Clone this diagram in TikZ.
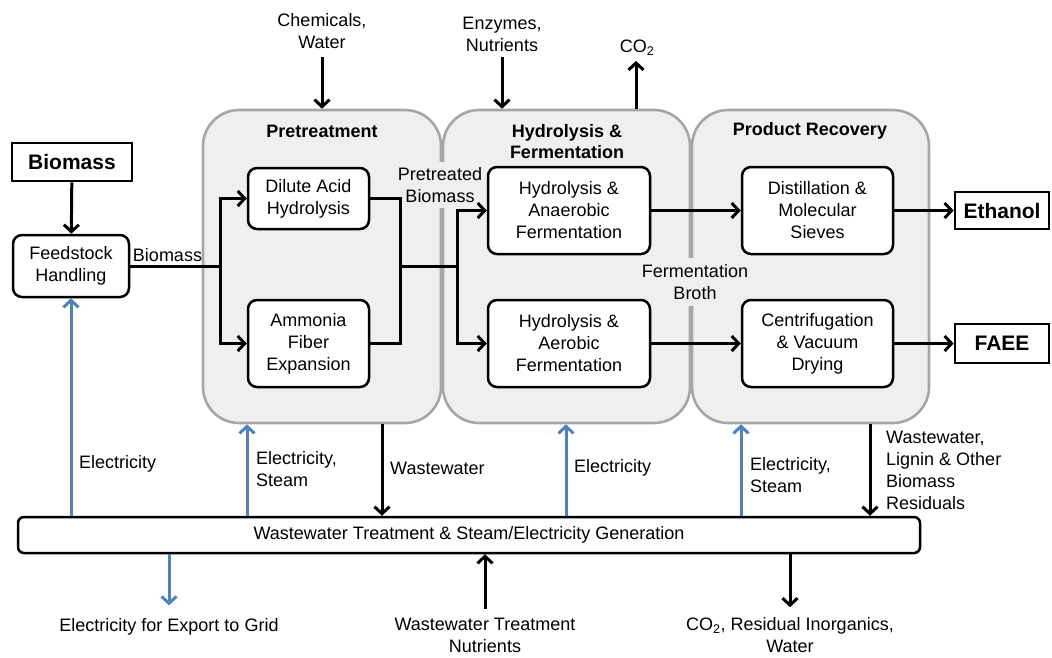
\documentclass[tikz,border=0pt]{standalone}
\usepackage{fontspec}
\setmainfont{Liberation Sans}
\usetikzlibrary{arrows.meta,calc}
\definecolor{grpfill}{HTML}{EFEFEF}
\definecolor{grpdraw}{HTML}{A6A6A6}
\definecolor{elecblue}{HTML}{4F81BD}
\begin{document}
\begin{tikzpicture}[x=1pt,y=-1pt,
  txt/.style={font=\fontsize{18}{22}\selectfont, align=center, inner sep=0pt},
  proc/.style={txt, draw=black, line width=2.5pt, fill=white, rounded corners=9pt},
  prod/.style={draw=black, line width=2.7pt, fill=white, font=\fontsize{21}{25}\selectfont\bfseries, inner sep=0pt},
  grp/.style={draw=grpdraw, line width=2.6pt, fill=grpfill, rounded corners=36pt, inner sep=0pt},
  gtitle/.style={font=\fontsize{18}{21}\selectfont\bfseries, align=center, inner sep=0pt},
  flow/.style={line width=3pt, -{Straight Barb[length=7pt,width=15pt]}},
  conn/.style={line width=3pt},
  elec/.style={line width=3pt, draw=elecblue, -{Straight Barb[length=7pt,width=15pt]}},
  lab/.style={txt, align=left, anchor=west},
]
\useasboundingbox (0,0) rectangle (1052,657);

% groups
\node[grp, minimum width=238, minimum height=313] (pre) at (322,266.5) {};
\node[grp, minimum width=247, minimum height=313] (hyd) at (566.5,266.5) {};
\node[grp, minimum width=237, minimum height=313] (rec) at (810.5,266.5) {};

\node[gtitle] (pret) at (322,131) {Pretreatment};
\node[gtitle] (hydt) at (567,141.5) {Hydrolysis \&\\Fermentation};
\node[gtitle] (rect) at (810,131) {Product Recovery};

% labels cutting group borders
\node[txt, fill=grpfill, inner xsep=1pt, inner ysep=5pt] (lpre) at (440,185) {Pretreated\\Biomass};
\node[txt, fill=grpfill, inner xsep=1pt, inner ysep=6pt] (lfer) at (695,282) {Fermentation\\Broth};

% process boxes
\node[prod, minimum width=120, minimum height=38] (bio) at (72,162) {Biomass};
\node[proc, minimum width=116, minimum height=62] (feed) at (71,266) {Feedstock\\Handling};
\node[proc, minimum width=121, minimum height=61] (dil) at (308.5,198.5) {Dilute Acid\\Hydrolysis};
\node[proc, minimum width=121, minimum height=87] (amm) at (308.5,343.5) {Ammonia\\Fiber\\Expansion};
\node[proc, minimum width=162, minimum height=87] (ana) at (569,210.5) {Hydrolysis \&\\Anaerobic\\Fermentation};
\node[proc, minimum width=162, minimum height=87] (aer) at (569,343.5) {Hydrolysis \&\\Aerobic\\Fermentation};
\node[proc, minimum width=151, minimum height=87] (dis) at (817.5,210.5) {Distillation \&\\Molecular\\Sieves};
\node[proc, minimum width=151, minimum height=87] (cen) at (817.5,343.5) {Centrifugation\\\& Vacuum\\Drying};
\node[prod, minimum width=94, minimum height=37] (eth) at (1002,210.5) {Ethanol};
\node[prod, minimum width=94, minimum height=39] (faee) at (1002,343.5) {FAEE};
\node[proc, rounded corners=6pt, minimum width=902, minimum height=36] (bar) at (469,535) {Wastewater Treatment \& Steam/Electricity Generation};

% main flow
\coordinate (j1) at (220,266);
\coordinate (j2) at (400,266);
\coordinate (j3) at (457,266);
\draw[flow] (bio) -- (feed);
\node[txt] (lbio) at (167.5,255) {Biomass};
\draw[conn] (feed.east) -- (j1);
\draw[flow] (j1) |- (dil.west);
\draw[flow] (j1) |- (amm.west);
\draw[conn] (dil.east) -| (j2);
\draw[conn] (amm.east) -| (j2);
\draw[conn] (j2) -- (j3);
\draw[flow] (j3) |- (ana.west);
\draw[flow] (j3) |- (aer.west);
\draw[flow] (ana.east) -- (dis.west);
\draw[flow] (aer.east) -- (cen.west);
\draw[flow] (dis.east) -- (eth.west);
\draw[flow] (cen.east) -- (faee.west);

% top inputs
\node[txt] (chem) at (322,31.5) {Chemicals,\\Water};
\node[txt] (enz) at (502,34) {Enzymes,\\Nutrients};
\node[txt] (co2) at (637,48) {CO\textsubscript{2}};
\draw[flow, shorten <=8pt] (chem.south) -- (pre.north -| chem);
\draw[flow, shorten <=6pt] (enz.south) -- (hyd.north -| enz);
\coordinate (co2x) at (636,0);
\draw[flow, shorten >=5pt] (hyd.north -| co2x) -- (co2.south -| co2x);

% utilities
\coordinate (e2) at (247,0);
\coordinate (w1) at (382,0);
\coordinate (e3) at (566,0);
\coordinate (e4) at (741,0);
\coordinate (w2) at (870,0);
\draw[elec] (bar.north -| feed) -- (feed.south);
\draw[elec] (bar.north -| e2) -- (pre.south -| e2);
\draw[flow] (pre.south -| w1) -- (bar.north -| w1);
\draw[elec] (bar.north -| e3) -- (hyd.south -| e3);
\draw[elec] (bar.north -| e4) -- (rec.south -| e4);
\draw[flow] (rec.south -| w2) -- (bar.north -| w2);

\node[lab] (le1) at (79,464) {Electricity};
\node[lab] (le2) at (256,469) {Electricity,\\Steam};
\node[lab] (lw1) at (390,468) {Wastewater};
\node[lab] (le3) at (574,468) {Electricity};
\node[lab] (le4) at (750,475.5) {Electricity,\\Steam};
\node[lab] (lw2) at (886,470) {Wastewater,\\Lignin \& Other\\Biomass\\Residuals};

% outputs below
\node[txt] (exp) at (169,627) {Electricity for Export to Grid};
\node[txt] (nut) at (485,635) {Wastewater Treatment\\Nutrients};
\node[txt] (res) at (790,635) {CO\textsubscript{2}, Residual Inorganics,\\Water};
\draw[elec, shorten >=13pt] (bar.south -| exp) -- (exp.north);
\draw[flow, shorten <=9pt] (nut.north) -- (bar.south -| nut);
\draw[flow, shorten >=10pt] (bar.south -| res) -- (res.north);
\end{tikzpicture}
\end{document}
